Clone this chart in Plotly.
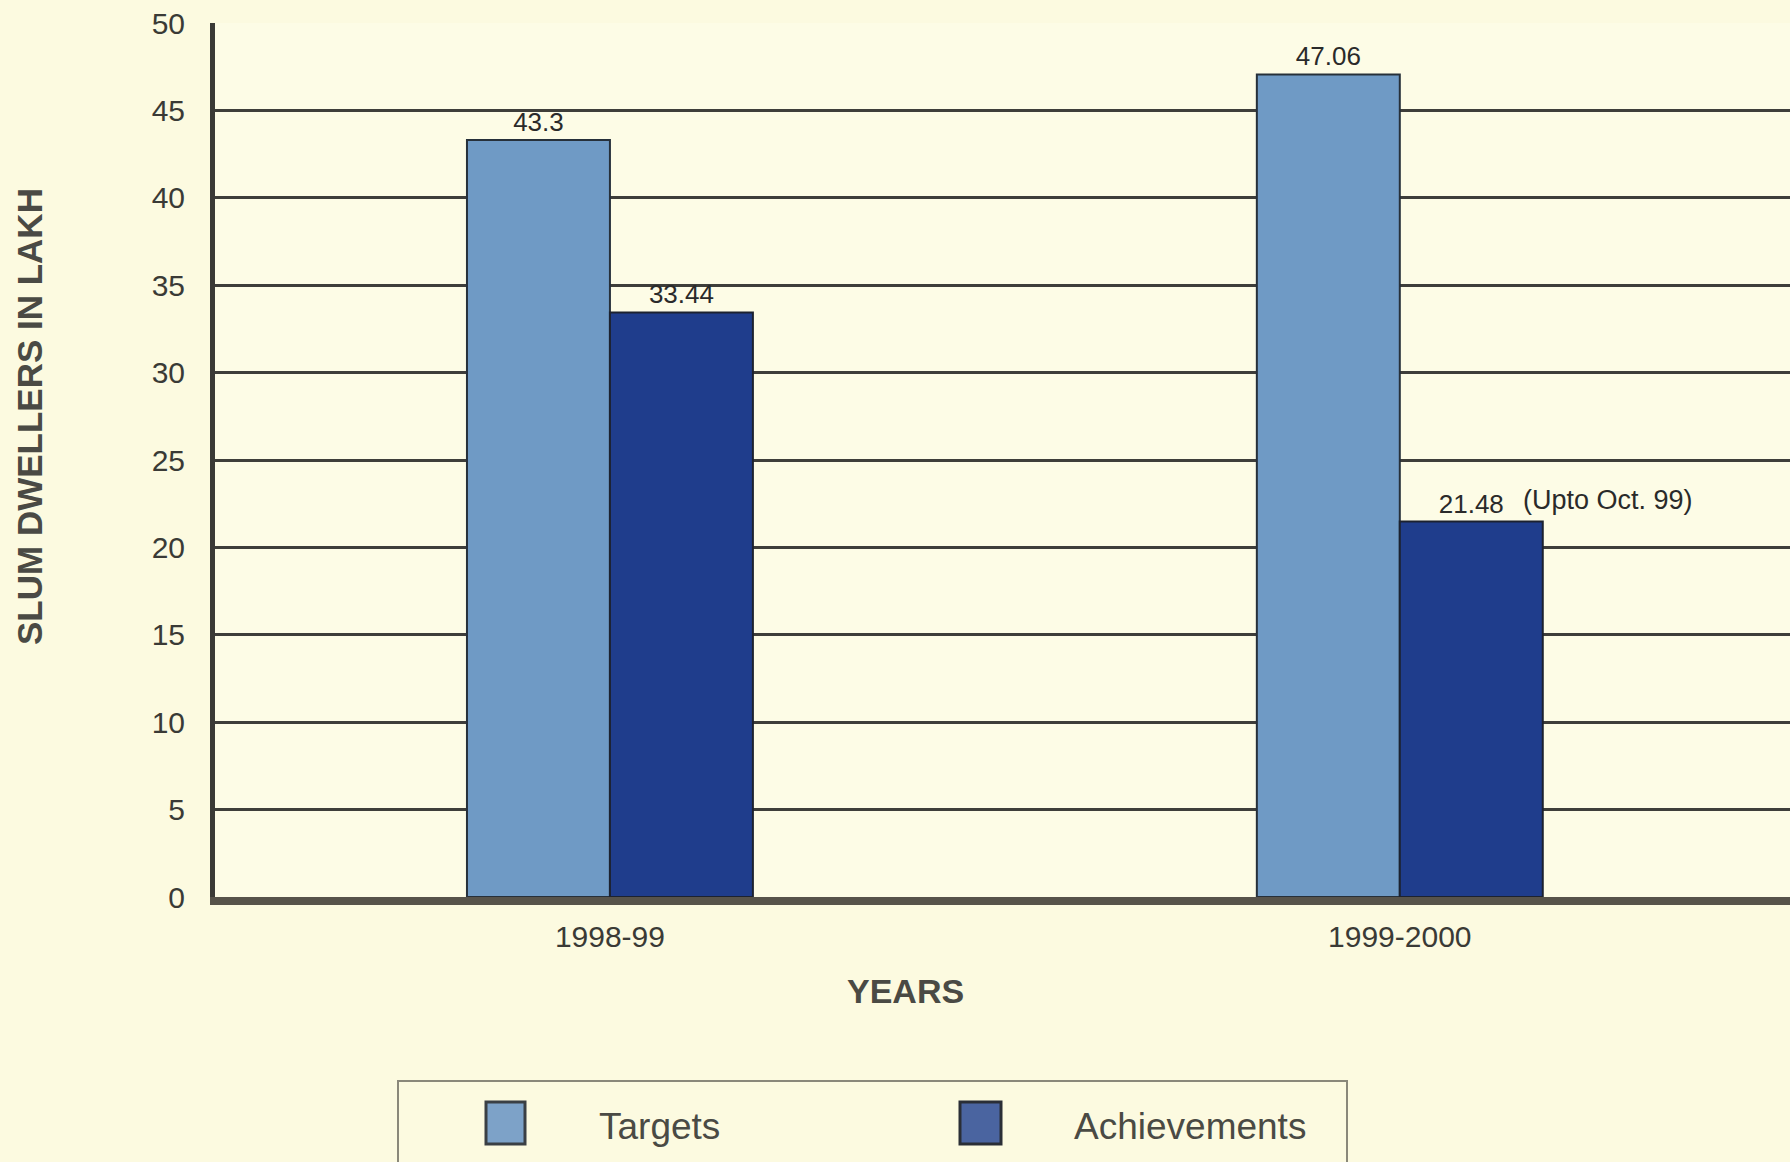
import plotly.graph_objects as go

# Data
years = ["1998-99", "1999-2000"]
targets = [43.3, 47.06]
achievements = [33.44, 21.48]
target_labels = ["43.3", "47.06"]
achievement_labels = ["33.44", "21.48"]
y_ticks = [0, 5, 10, 15, 20, 25, 30, 35, 40, 45, 50]

W, H = 1790, 1162
L, R, T, B = 215, 0, 23, 265

FONT = "Liberation Sans, Arial, sans-serif"
BG = "#FCFAE0"
TARGET_C = "#6F9AC5"
ACHIEVE_C = "#1F3D8C"
INK = "#3A3A36"


def px(xv):
    """Pixel x on the page -> paper fraction."""
    return (xv - L) / (W - L - R)


def py(yv):
    """Pixel y on the page (from top) -> paper fraction."""
    return (H - B - yv) / (H - T - B)


fig = go.Figure()
fig.add_trace(go.Bar(
    x=years, y=targets, name="Targets",
    marker=dict(color=TARGET_C, line=dict(color="#26303A", width=2)),
    text=target_labels, textposition="outside",
    textfont=dict(family=FONT, size=26, color="#2A2A2A"),
    cliponaxis=False,
))
fig.add_trace(go.Bar(
    x=years, y=achievements, name="Achievements",
    marker=dict(color=ACHIEVE_C, line=dict(color="#1C2230", width=2)),
    text=achievement_labels, textposition="outside",
    textfont=dict(family=FONT, size=26, color="#2A2A2A"),
    cliponaxis=False,
))

# Note beside the partial-year achievement bar
fig.add_annotation(
    x=1.153, y=achievements[1], xref="x", yref="y",
    text="(Upto Oct. 99)", showarrow=False,
    xanchor="left", yanchor="bottom", yshift=5,
    font=dict(family=FONT, size=27, color="#2A2A2A"),
)

# Axis titles
fig.add_annotation(
    x=px(905), y=py(991), xref="paper", yref="paper",
    text="<b>YEARS</b>", showarrow=False,
    xanchor="center", yanchor="middle",
    font=dict(family=FONT, size=34, color="#4A4A44"),
)
fig.add_annotation(
    x=px(29), y=py(417), xref="paper", yref="paper",
    text="<b>SLUM DWELLERS IN LAKH</b>", showarrow=False, textangle=-90,
    xanchor="center", yanchor="middle",
    font=dict(family=FONT, size=35, color="#4A4A44"),
)

# Legend box drawn at the bottom
shapes = [
    dict(type="rect", xref="paper", yref="paper",
         x0=px(398), x1=px(1347), y0=py(1081), y1=py(1175),
         line=dict(color="#8A887A", width=2), fillcolor="rgba(0,0,0,0)"),
    dict(type="rect", xref="paper", yref="paper",
         x0=px(486), x1=px(525), y0=py(1102), y1=py(1144),
         line=dict(color="#3A3F44", width=3), fillcolor="#7DA2C8"),
    dict(type="rect", xref="paper", yref="paper",
         x0=px(960), x1=px(1001), y0=py(1102), y1=py(1144),
         line=dict(color="#2A2E36", width=3), fillcolor="#4A64A0"),
]
fig.add_annotation(x=px(597), y=py(1126), xref="paper", yref="paper",
                   text="Targets", showarrow=False, xanchor="left", yanchor="middle",
                   font=dict(family=FONT, size=37, color="#4A4A44"))
fig.add_annotation(x=px(1072), y=py(1126), xref="paper", yref="paper",
                   text="Achievements", showarrow=False, xanchor="left", yanchor="middle",
                   font=dict(family=FONT, size=37, color="#4A4A44"))

fig.update_layout(
    width=W, height=H,
    margin=dict(l=L, r=R, t=T, b=B, pad=0),
    paper_bgcolor=BG, plot_bgcolor="#FDFCE6",
    barmode="group", bargap=0.638, bargroupgap=0,
    showlegend=False,
    shapes=shapes,
    font=dict(family=FONT, color=INK),
    xaxis=dict(
        type="category", range=[-0.5, 1.494],
        showgrid=False, ticks="",
        showline=True, linecolor="#57534A", linewidth=8,
        tickfont=dict(family=FONT, size=30, color=INK),
        ticklabelstandoff=6,
        zeroline=False,
    ),
    yaxis=dict(
        range=[0, 50], tickvals=y_ticks,
        showgrid=True, gridcolor="#3E3E3A", gridwidth=2.5,
        showline=True, linecolor="#3A3A36", linewidth=5,
        ticks="", zeroline=False,
        tickfont=dict(family=FONT, size=30, color=INK),
        ticklabelstandoff=19,
    ),
)

fig.write_html("out.html")
